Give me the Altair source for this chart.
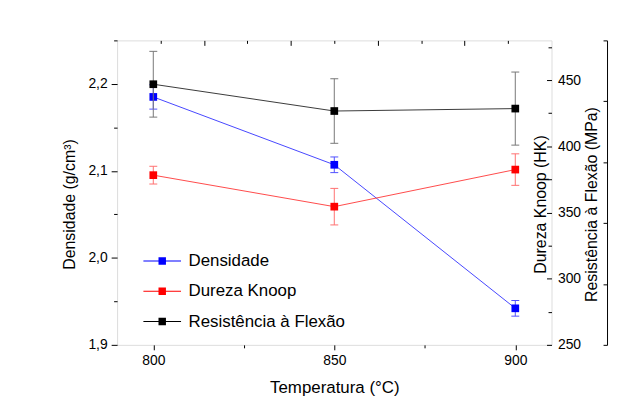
import altair as alt
import pandas as pd

# ---- data ----
temps = [800, 850, 900]
series_names = ["Densidade", "Dureza Knoop", "Resistência à Flexão"]

dens = [2.185, 2.107, 1.942]
dens_err = [0.014, 0.009, 0.009]

knoop = [378.2, 354.4, 382.4]
knoop_err = [6.7, 13.8, 11.9]

flex = [42.8, 38.4, 38.8]
flex_err = [5.4, 5.3, 6.0]

dens_ticks = [1.9, 2.0, 2.1, 2.2]
dens_minor = [1.95, 2.05, 2.15, 2.25]
knoop_ticks = [250, 300, 350, 400, 450]
knoop_minor = [275, 325, 375, 425, 475]
flex_ticks = [0, 10, 20, 30, 40, 50]
temp_ticks = [800, 850, 900]
temp_minor = [825, 875]
top_major = [814, 838, 862, 886]
top_minor = [802, 826, 850, 874, 898]

marker_colors = ["#0000ff", "#ff0000", "#000000"]
line_colors = ["#4646ff", "#ff4a4a", "#3a3a3a"]
bar_colors = ["#5050ff", "#ff7070", "#777777"]

FONT = "Liberation Sans"
W, H = 438, 307


def frame(vals, errs, name):
    return pd.DataFrame({
        "temp": temps,
        "value": vals,
        "lo": [v - e for v, e in zip(vals, errs)],
        "hi": [v + e for v, e in zip(vals, errs)],
        "series": [name] * len(temps),
    })


xs = alt.Scale(domain=[790, 910], nice=False, zero=False)
color_scale = alt.Scale(domain=series_names, range=marker_colors)

legend_path = ("M-2.53,-0.07H-0.5V-0.5H0.5V-0.07H2.53V0.07H0.5V0.5H-0.5"
               "V0.07H-2.53Z")
legend = alt.Legend(
    title=None, orient="none", legendX=37, legendY=214, padding=0,
    symbolType=legend_path, symbolSize=225, symbolStrokeWidth=0,
    labelFontSize=17, labelFont=FONT, labelColor="#000", labelOffset=18,
    rowPadding=12.5, labelLimit=400,
)


def series_layer(df, ys, xaxis, yaxis, i):
    X = alt.X("temp:Q", scale=xs, axis=xaxis)
    line = alt.Chart(df).mark_line(color=line_colors[i], strokeWidth=1).encode(
        x=X, y=alt.Y("value:Q", scale=ys, axis=yaxis))
    rule = alt.Chart(df).mark_rule(color=bar_colors[i], strokeWidth=1).encode(
        x=X, y=alt.Y("lo:Q", scale=ys, axis=yaxis), y2="hi:Q")
    cap_lo = alt.Chart(df).mark_tick(orient="horizontal", size=8, thickness=1,
                                     color=bar_colors[i], opacity=1).encode(
        x=X, y=alt.Y("lo:Q", scale=ys, axis=yaxis))
    cap_hi = alt.Chart(df).mark_tick(orient="horizontal", size=8, thickness=1,
                                     color=bar_colors[i], opacity=1).encode(
        x=X, y=alt.Y("hi:Q", scale=ys, axis=yaxis))
    pts = alt.Chart(df).mark_point(shape="square", filled=True, size=60,
                                   opacity=1).encode(
        x=X, y=alt.Y("value:Q", scale=ys, axis=yaxis),
        color=alt.Color("series:N", scale=color_scale, legend=legend))
    return alt.layer(line, rule, cap_lo, cap_hi, pts)


def axis_layer(df, ys, xaxis, yaxis):
    return alt.Chart(df).mark_point(opacity=0).encode(
        x=alt.X("temp:Q", scale=xs, axis=xaxis),
        y=alt.Y("value:Q", scale=ys, axis=yaxis))


df_d = frame(dens, dens_err, series_names[0])
df_k = frame(knoop, knoop_err, series_names[1])
df_f = frame(flex, flex_err, series_names[2])

ys_d = alt.Scale(domain=[1.9, 2.25], nice=False, zero=False)
ys_k = alt.Scale(domain=[250, 480], nice=False, zero=False)
ys_f = alt.Scale(domain=[0, 50], nice=False, zero=False)

common = dict(grid=False, tickColor="#000", tickWidth=1, labelColor="#000",
              labelFont=FONT, titleFont=FONT, titleColor="#000",
              titleFontWeight="normal")

x_main = alt.Axis(orient="bottom", values=temp_ticks, tickSize=5, labelPadding=4,
                  labelFontSize=14, domain=False, title="Temperatura (°C)",
                  titleFontSize=17, titleX=W / 2, titleY=43, titleBaseline="middle",
                  titleAlign="center", format="d", **common)
y_dens = alt.Axis(orient="left", values=dens_ticks, tickSize=6, labelPadding=4,
                  labelFontSize=14, domain=False, title="Densidade (g/cm³)",
                  labelExpr="replace(format(datum.value, '.1f'), '.', ',')",
                  titleFontSize=16, titleAngle=270, titleX=-48, titleY=165,
                  titleBaseline="middle", titleAlign="center", **common)
x_minor = alt.Axis(orient="bottom", values=temp_minor, tickSize=3, labels=False,
                   domain=False, title=None, **common)
y_dens_minor = alt.Axis(orient="left", values=dens_minor, tickSize=3.5,
                        labels=False, domain=False, title=None, **common)

y_knoop = alt.Axis(orient="right", offset=-5, values=knoop_ticks, tickSize=5,
                   labelPadding=6, labelFontSize=14, domain=False,
                   title="Dureza Knoop (HK)", titleFontSize=16, titleAngle=270,
                   titleX=-6.5, titleY=165, titleBaseline="middle",
                   titleAlign="center", **common)
y_knoop_minor = alt.Axis(orient="right", offset=-3.5, values=knoop_minor,
                         tickSize=3.5, labels=False, domain=False, title=None,
                         **common)
x_top = alt.Axis(orient="top", offset=-5, values=top_major, tickSize=5,
                 labels=False, domain=False, title=None, **common)

y_flex = alt.Axis(orient="right", offset=52, values=flex_ticks, tickSize=4,
                  labels=False, domain=False, title="Resistência à Flexão (MPa)",
                  titleFontSize=16, titleAngle=270, titleX=-12, titleY=165,
                  titleBaseline="middle", titleAlign="center", **common)
y_flex_line = alt.Axis(orient="right", offset=56, ticks=False, labels=False,
                       domain=True, domainColor="#000", domainWidth=1,
                       title=None, grid=False)
x_top_minor = alt.Axis(orient="top", offset=-3, values=top_minor, tickSize=3,
                       labels=False, domain=False, title=None, **common)

chart = alt.layer(
    series_layer(df_d, ys_d, x_main, y_dens, 0),
    axis_layer(df_d, ys_d, x_minor, y_dens_minor),
    series_layer(df_k, ys_k, None, y_knoop, 1),
    axis_layer(df_k, ys_k, x_top, y_knoop_minor),
    series_layer(df_f, ys_f, None, y_flex, 2),
    axis_layer(df_f, ys_f, x_top_minor, y_flex_line),
).resolve_scale(
    x="independent", y="independent", color="shared"
).properties(
    width=W, height=H,
    padding={"left": 110, "top": 31, "right": 60, "bottom": 60},
    autosize=alt.AutoSizeParams(type="none"),
    background="white",
).configure_view(
    stroke="#000", strokeWidth=1.2
).configure(font=FONT)

chart.save("out.html", embed_options={"renderer": "svg", "actions": False})
